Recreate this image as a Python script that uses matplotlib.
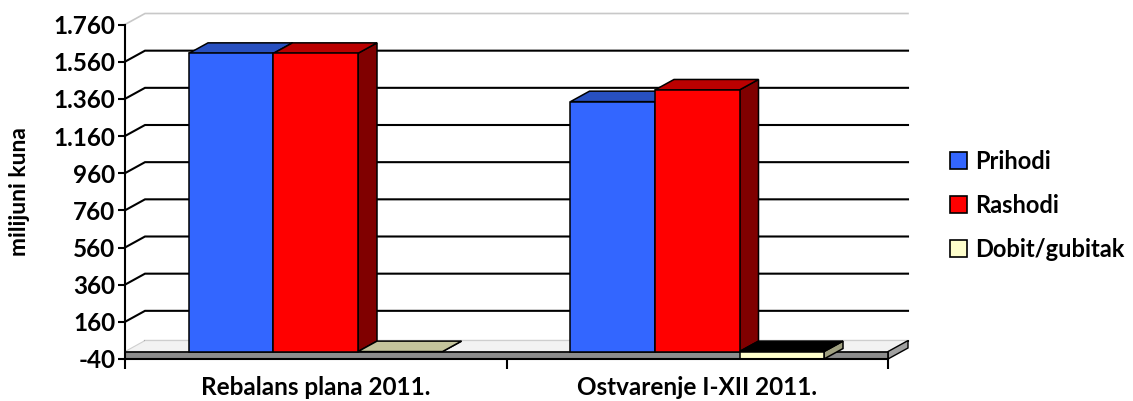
import matplotlib

matplotlib.use("Agg")
import matplotlib.pyplot as plt
from matplotlib.patches import Polygon, Patch

plt.rcParams["font.family"] = ["Lato", "DejaVu Sans"]
plt.rcParams["font.weight"] = "bold"

categories = ["Rebalans plana 2011.", "Ostvarenje I-XII 2011."]
series = ["Prihodi", "Rashodi", "Dobit/gubitak"]
prihodi = [1605, 1345]
rashodi = [1605, 1408]
dobit = [0, -63]
yticks = [-40, 160, 360, 560, 760, 960, 1160, 1360, 1560, 1760]

front = {"Prihodi": "#3366FF", "Rashodi": "#FF0000", "Dobit/gubitak": "#FFFFCC"}
top = {"Prihodi": "#2850C0", "Rashodi": "#BB0000", "Dobit/gubitak": "#C4C49C"}
side = {"Prihodi": "#1A3A99", "Rashodi": "#800000", "Dobit/gubitak": "#A0A080"}

YMIN, YMAX = -40, 1760
W_PX, H_PX = 1133, 401
ax_l, ax_r, ax_t, ax_b = 125, 888, 24.5, 359

fig = plt.figure(figsize=(W_PX / 100, H_PX / 100), dpi=100)
ax = fig.add_axes([ax_l / W_PX, 1 - ax_b / H_PX,
                   (ax_r - ax_l) / W_PX, (ax_b - ax_t) / H_PX])
ax.set_xlim(0, 2)
ax.set_ylim(YMIN, YMAX)

# depth offset of the 3d box, pixels -> data units
DX = 20 / (ax_r - ax_l) * 2
DY = 11 / (ax_b - ax_t) * (YMAX - YMIN)


def poly(pts, fc, ec="black", lw=1.1, z=2):
    ax.add_patch(Polygon(pts, closed=True, facecolor=fc, edgecolor=ec,
                         linewidth=lw, zorder=z, clip_on=False, joinstyle="miter"))


# back wall and side wall gridlines
for v in yticks[1:-1]:
    ax.plot([0, DX, 2 + DX], [v, v + DY, v + DY], color="black", lw=1.5,
            zorder=1, clip_on=False, solid_joinstyle="miter")
ax.plot([0, DX, 2 + DX], [YMAX, YMAX + DY, YMAX + DY], color="#c8c8c8", lw=1.2,
        zorder=1, clip_on=False)
ax.plot([DX, 2 + DX], [DY, DY], color="black", lw=1.5, zorder=1, clip_on=False)

# floor slab between -40 and 0
poly([(0, 0), (2, 0), (2 + DX, DY), (DX, DY)], "#f2f2f2", ec="#d0d0d0", lw=0.8, z=1.5)
poly([(2, YMIN), (2, 0), (2 + DX, DY), (2 + DX, YMIN + DY)], "#a0a0a0", lw=1.0, z=1.6)
poly([(0, YMIN), (2, YMIN), (2, 0), (0, 0)], "#8c8c8c", lw=1.2, z=1.7)

# bars
bw = 0.2215
bdx, bdy = DX * 0.95, DY * 0.95
for gi in range(len(categories)):
    vals = {"Prihodi": prihodi[gi], "Rashodi": rashodi[gi], "Dobit/gubitak": dobit[gi]}
    for si, name in enumerate(series):
        x0 = gi + 0.5 + (si - 1.5) * bw
        x1 = x0 + bw
        v = max(vals[name], YMIN)
        lo, hi = min(0, v), max(0, v)
        poly([(x1, lo), (x1 + bdx, lo + bdy), (x1 + bdx, hi + bdy), (x1, hi)], side[name])
        ty = 0 if v < 0 else hi
        tcol = top[name] if vals[name] >= 0 else "black"
        poly([(x0, ty), (x1, ty), (x1 + bdx, ty + bdy), (x0 + bdx, ty + bdy)], tcol)
        if hi > lo:
            poly([(x0, lo), (x1, lo), (x1, hi), (x0, hi)], front[name])

# axes styling
for s in ["top", "right"]:
    ax.spines[s].set_visible(False)
ax.spines["left"].set_linewidth(1.5)
ax.spines["bottom"].set_linewidth(1.5)
ax.spines["left"].set_zorder(3)
ax.set_yticks(yticks)
ax.set_yticklabels([f"{v:,}".replace(",", ".") for v in yticks], fontsize=17.5,
                   fontweight="bold")
ax.tick_params(axis="y", direction="out", length=5, width=1.5, pad=2)
ax.set_xticks([0, 1, 2])
ax.set_xticklabels([])
ax.tick_params(axis="x", which="major", direction="out", length=7, width=1.5)
ax.set_xticks([0.5, 1.5], minor=True)
ax.set_xticklabels(categories, minor=True, fontsize=17.5, fontweight="bold")
ax.tick_params(axis="x", which="minor", length=0, pad=12)
ax.set_ylabel("milijuni kuna", fontsize=16.5, fontweight="bold", labelpad=17)
ax.patch.set_visible(False)

handles = [Patch(facecolor=front[n], edgecolor="black", linewidth=1.2) for n in series]
fig.legend(handles, series, loc="upper left", bbox_to_anchor=(950 / W_PX, 1 - 150 / H_PX),
           frameon=False, prop={"size": 17, "weight": "bold"}, handlelength=0.7,
           handleheight=0.7, handletextpad=0.35, labelspacing=0.88, borderpad=0,
           borderaxespad=0)

fig.savefig("out.png", dpi=100)
